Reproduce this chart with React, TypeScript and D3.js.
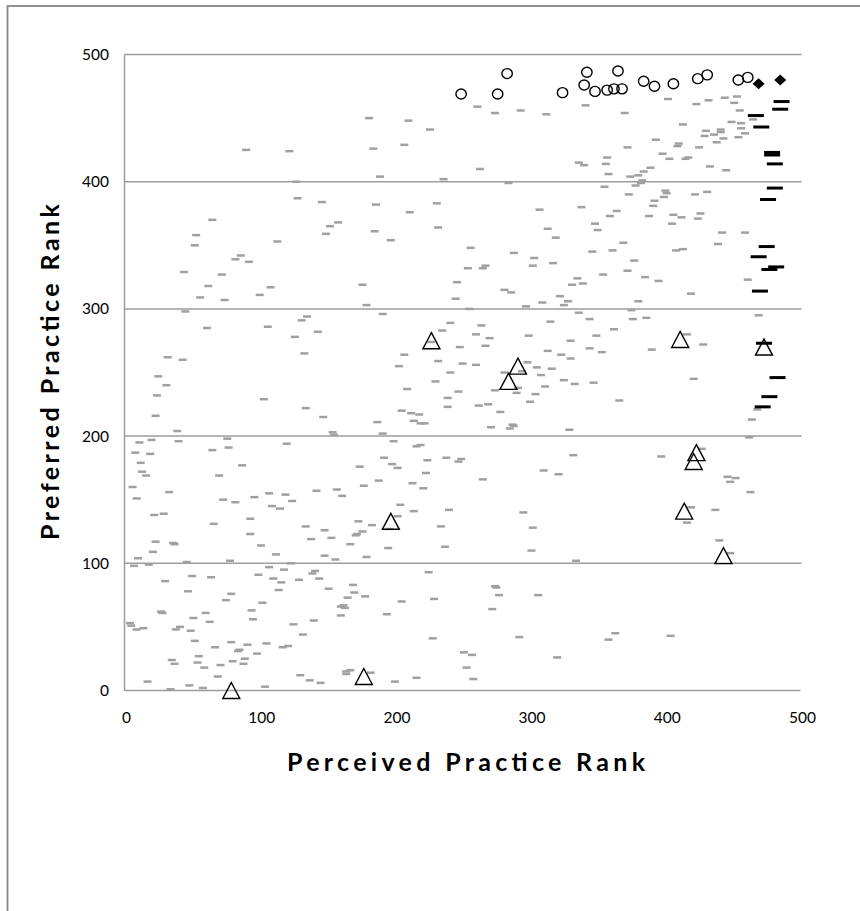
import React from 'react';
import * as d3 from 'd3';

const xTicks = [0, 100, 200, 300, 400, 500];
const yTicks = [0, 100, 200, 300, 400, 500];

// grey dashes: most practices
const otherPoints: [number, number][] = [
  [181,450],[210,448],[226,441],[90,425],[122,424],[184,426],[207,429],[189,404],[236,402],[127,400],
  [128,387],[146,384],[186,382],[231,383],[211,376],[65,370],[158,368],[152,365],[53,358],[149,359],
  [185,361],[232,364],[52,350],[113,353],[197,354],[86,342],[82,339],[92,337],[44,329],[72,327],
  [62,318],[108,317],[176,319],[56,309],[100,311],[74,307],[179,303],[45,298],[191,296],[135,294],
  [131,291],[61,285],[106,286],[235,283],[143,282],[126,278],[227,274],[133,265],[207,264],[32,262],
  [43,260],[232,259],[203,255],[241,289],
  [261,459],[274,454],[293,456],[312,453],[341,460],[370,454],[402,465],[423,461],[432,464],[444,466],
  [453,467],[451,462],[455,456],[465,449],[413,445],[372,427],[393,433],[410,430],[409,428],[425,427],
  [430,440],[429,436],[436,437],[441,441],[441,439],[438,431],[443,434],[449,447],[456,446],[456,442],
  [459,438],[454,435],[398,422],[403,418],[415,418],[417,419],[336,415],[340,413],[357,419],[356,414],
  [358,406],[263,410],[433,412],[445,409],[374,404],[380,405],[384,408],[389,411],[383,401],[382,399],
  [378,397],[284,399],[355,396],[373,390],[400,393],[401,391],[399,388],[392,385],[391,381],[422,390],
  [431,392],[307,378],[338,380],[364,377],[359,373],[388,373],[406,374],[412,372],[405,367],[426,375],
  [424,371],[313,363],[348,367],[350,362],[319,356],[369,352],[361,346],[346,345],[442,360],[459,360],
  [439,351],[256,348],[288,344],[303,340],[302,334],[317,336],[377,338],[408,346],[413,347],[254,332],
  [265,332],[267,334],[335,324],[331,319],[339,320],[354,327],[372,330],[385,325],[395,322],[461,323],
  [246,321],[281,315],[286,313],[245,308],[322,310],[328,306],[325,303],[309,305],[297,302],[255,300],
  [419,312],[380,306],[375,299],[336,297],[344,292],[376,292],[386,293],[469,295],[315,290],[362,284],
  [264,287],[260,280],[270,277],[267,271],[299,279],[248,270],[330,275],[349,279],[313,267],[323,264],
  [330,261],[344,269],[353,266],[390,268],[428,272],[416,280],[250,257],[260,256],[298,258],[305,254],
  [316,253],
  [25,247],[31,240],[24,232],[23,216],[39,204],[103,229],[134,222],[147,215],[154,203],[155,201],
  [241,250],[230,243],[209,237],[239,230],[239,223],[205,220],[212,218],[218,217],[214,212],[219,210],
  [222,210],[187,211],[191,202],
  [11,195],[20,197],[40,196],[8,187],[19,186],[12,179],[13,172],[16,169],[6,160],[9,151],
  [33,156],[22,138],[29,139],[23,117],[21,109],[10,104],[36,116],[37,115],[7,98],[18,99],
  [46,101],[65,189],[77,191],[76,198],[87,177],[70,169],[120,194],[73,150],[82,148],[96,152],
  [107,155],[119,154],[109,145],[115,143],[124,149],[66,131],[93,135],[93,123],[101,114],[112,107],
  [78,102],[123,100],[134,129],[138,119],[148,126],[153,120],[142,157],[157,158],[161,153],[148,106],
  [156,103],[167,115],[179,105],[171,122],[172,123],[176,125],[183,130],[173,133],[195,112],[174,176],
  [177,161],[188,165],[192,183],[198,178],[202,175],[199,196],[204,146],[214,141],[202,137],[196,127],
  [213,163],[221,159],[223,171],[224,181],[216,192],[219,193],[238,183],[240,142],[234,129],[237,113],
  [30,86],[50,90],[64,89],[47,78],[79,76],[75,71],[27,62],[28,61],[4,53],[5,51],
  [9,48],[14,49],[38,48],[41,50],[51,57],[49,47],[60,61],[63,54],[52,39],[67,34],
  [55,27],[54,22],[59,18],[35,24],[37,21],[17,7],[34,1],[48,4],[58,2],[69,11],
  [71,20],[79,38],[84,31],[85,32],[91,36],[80,23],[89,25],[88,21],[98,29],[105,37],
  [117,34],[121,35],[94,63],[95,56],[102,69],[107,97],[99,91],[110,88],[118,95],[116,85],
  [114,79],[129,87],[139,92],[141,94],[144,88],[151,80],[125,52],[132,44],[140,55],[160,66],
  [163,65],[162,67],[160,59],[165,73],[170,77],[169,83],[178,74],[130,12],[137,8],[145,6],
  [104,3],[164,15],[164,13],[167,16],[182,14],[200,7],[216,10],[194,60],[205,70],[225,93],
  [229,72],[228,41],
  [247,235],[262,224],[269,225],[278,219],[274,236],[281,250],[290,234],[291,238],[294,251],[308,248],
  [311,239],[304,233],[300,227],[325,244],[333,241],[347,242],[366,228],[271,207],[285,206],[287,209],
  [288,208],[329,205],[421,245],[468,221],[464,213],[462,199],[247,180],[249,182],[265,166],[332,185],
  [310,173],[321,170],[397,184],[427,190],[446,168],[452,167],[448,164],[463,156],[295,140],[302,128],
  [301,110],[334,102],[419,144],[416,132],[437,142],[440,118],[448,108],[274,82],[275,81],[277,75],
  [306,75],[272,64],[292,42],[251,30],[257,28],[253,18],[258,9],[320,26],[363,45],[358,40],
  [404,43],
];

// black dashes along the right edge
const blackDashPoints: [number, number][] = [
  [486,463],[485,457],[467,452],[471,443],[479,423],[479,421],[481,414],[481,395],[476,386],
  [475,349],[469,341],[477,331],[482,333],[470,314],[473,273],[483,246],[477,231],[472,223],
];

// open circles at the top
const circlePoints: [number, number][] = [
  [249,469],[276,469],[283,485],[324,470],[342,486],[340,476],[348,471],[357,472],[362,473],
  [365,487],[368,473],[384,479],[392,475],[406,477],[424,481],[431,484],[454,480],[461,482],
];

const diamondPoints: [number, number][] = [[469,477],[485,480]];

const trianglePoints: [number, number][] = [
  [79,0],[177,11],[197,133],[227,275],[284,243],[291,255],
  [411,276],[473,270],[423,187],[421,180],[414,141],[443,106],
];

const W = 860;
const H = 911;
const tickFont = "Lato, 'Open Sans', sans-serif";

export default function App() {
  const x = d3.scaleLinear().domain([0, 500]).range([124.5, 800.5]);
  const y = d3.scaleLinear().domain([0, 500]).range([690.5, 54.5]);
  const triangle = 'M0,-8L8.5,8L-8.5,8Z';
  const diamond = 'M0,-5.5L6,0L0,5.5L-6,0Z';

  return (
    <div style={{ position: 'absolute', left: 0, top: 0 }}>
      <svg width={W} height={H} style={{ display: 'block', background: '#fff' }}>
        <rect x={7.5} y={6} width={1000} height={1000} fill="#fff" stroke="#878787" strokeWidth={1.8} />

        {yTicks.filter((t) => t > 0).map((t) => (
          <line key={`g${t}`} x1={x(0)} x2={x(500) + 1} y1={y(t)} y2={y(t)} stroke="#9d9d9d" strokeWidth={1.5} />
        ))}
        <line x1={x(0)} x2={x(0)} y1={y(500)} y2={y(0)} stroke="#9d9d9d" strokeWidth={1.5} />
        <line x1={x(0)} x2={x(500)} y1={y(0)} y2={y(0)} stroke="#9d9d9d" strokeWidth={1.5} />

        {yTicks.map((t) => (
          <text key={`yl${t}`} x={109} y={y(t) + 5.5} textAnchor="end" fontFamily={tickFont} fontSize={15.5} fill="#000">
            {t}
          </text>
        ))}
        {xTicks.map((t) => (
          <text key={`xl${t}`} x={x(t) + 2} y={723} textAnchor="middle" fontFamily={tickFont} fontSize={15.5} fill="#000">
            {t}
          </text>
        ))}

        <text x={466} y={771} textAnchor="middle" fontFamily={tickFont} fontWeight="bold" fontSize={25}
          textLength={358} lengthAdjust="spacing">
          Perceived Practice Rank
        </text>
        <text transform="translate(59,372) rotate(-90)" textAnchor="middle" fontFamily={tickFont} fontWeight="bold"
          fontSize={25} textLength={336} lengthAdjust="spacing">
          Preferred Practice Rank
        </text>

        <g fill="#a0a0a0">
          {otherPoints.map(([a, b], i) => (
            <rect key={`o${i}`} x={x(a) - 4} y={y(b) - 1.25} width={8} height={2.5} />
          ))}
        </g>
        <g fill="#000">
          {blackDashPoints.map(([a, b], i) => (
            <rect key={`b${i}`} x={x(a) - 8} y={y(b) - 1.5} width={16} height={3} />
          ))}
        </g>
        <g fill="none" stroke="#000" strokeWidth={1.4}>
          {circlePoints.map(([a, b], i) => (
            <ellipse key={`c${i}`} cx={x(a)} cy={y(b)} rx={5.2} ry={5} />
          ))}
          {trianglePoints.map(([a, b], i) => (
            <path key={`t${i}`} d={triangle} transform={`translate(${x(a)},${y(b)})`} />
          ))}
        </g>
        <g fill="#000">
          {diamondPoints.map(([a, b], i) => (
            <path key={`d${i}`} d={diamond} transform={`translate(${x(a)},${y(b)})`} />
          ))}
        </g>
      </svg>
    </div>
  );
}
